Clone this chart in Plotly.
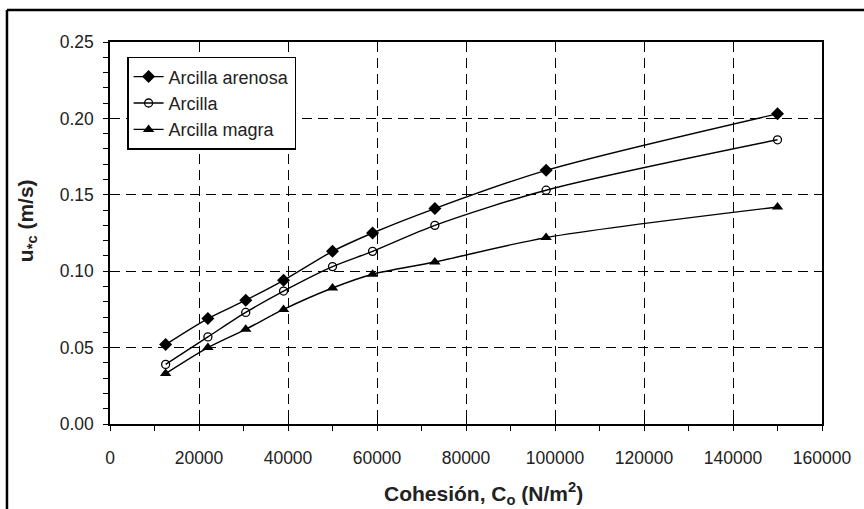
import plotly.graph_objects as go

cohesion = [12500, 22000, 30500, 39000, 50000, 59000, 73000, 98000, 150000]
arcilla_arenosa = [0.052, 0.069, 0.081, 0.094, 0.113, 0.125, 0.141, 0.166, 0.203]
arcilla = [0.039, 0.057, 0.073, 0.087, 0.103, 0.113, 0.130, 0.153, 0.186]
arcilla_magra = [0.033, 0.050, 0.062, 0.075, 0.089, 0.098, 0.106, 0.122, 0.142]

x_ticks = [0, 20000, 40000, 60000, 80000, 100000, 120000, 140000, 160000]
y_ticks = [0.00, 0.05, 0.10, 0.15, 0.20, 0.25]
y_labels = ["0.00", "0.05", "0.10", "0.15", "0.20", "0.25"]

x_title = "<b>Cohesión, C<sub>o</sub> (N/m<sup>2</sup>)</b>"
y_title = "<b>u<sub>*c</sub> (m/s)</b>"

FONT = "Liberation Sans, Arial, sans-serif"
TXT = "#222"

fig = go.Figure()
series = [
    ("Arcilla arenosa", arcilla_arenosa, dict(symbol="diamond", size=10, color="black")),
    ("Arcilla", arcilla, dict(symbol="circle-open", size=8, color="black", line=dict(width=1.3, color="black"))),
    ("Arcilla magra", arcilla_magra, dict(symbol="triangle-up", size=10, color="black")),
]
for name, vals, mk in series:
    fig.add_trace(go.Scatter(
        x=cohesion, y=vals, name=name, mode="lines+markers",
        line=dict(color="black", width=1.4, shape="spline", smoothing=0.8),
        marker=mk,
    ))

# invisible trace on secondary axes for inside major ticks
fig.add_trace(go.Scatter(x=[None], y=[None], xaxis="x2", yaxis="y2", showlegend=False))

fig.update_layout(
    width=864, height=509,
    margin=dict(l=110, r=42, t=42, b=85),
    paper_bgcolor="white", plot_bgcolor="white",
    font=dict(family=FONT, color=TXT, size=17),
    showlegend=True,
    legend=dict(
        x=0.024, y=0.961, xanchor="left", yanchor="top",
        bgcolor="white", bordercolor="black", borderwidth=1.5,
        font=dict(size=18, color=TXT),
        tracegroupgap=0, itemwidth=30,
    ),
    xaxis=dict(
        range=[0, 160000], tickvals=x_ticks, ticktext=[str(v) for v in x_ticks],
        showline=True, linecolor="black", linewidth=1.5, mirror=True,
        showgrid=True, gridcolor="black", gridwidth=1, griddash="10px,6px",
        ticks="outside", ticklen=5, tickwidth=1.3, tickcolor="black",
        minor=dict(dtick=10000, ticks="outside", ticklen=5, tickwidth=1.2, tickcolor="black", showgrid=False),
        zeroline=False, ticklabelstandoff=12,
        tickfont=dict(size=17.5, color=TXT),
    ),
    yaxis=dict(
        range=[0, 0.25], tickvals=y_ticks, ticktext=y_labels,
        showline=True, linecolor="black", linewidth=1.5, mirror=True,
        showgrid=True, gridcolor="black", gridwidth=1, griddash="10px,6px",
        ticks="outside", ticklen=5, tickwidth=1.3, tickcolor="black",
        minor=dict(dtick=0.01, ticks="outside", ticklen=5, tickwidth=1.2, tickcolor="black", showgrid=False),
        zeroline=False, ticklabelstandoff=6,
        tickfont=dict(size=17.5, color=TXT),
    ),
    xaxis2=dict(
        range=[0, 160000], tickvals=x_ticks, overlaying="x", anchor="y2", side="bottom",
        ticks="inside", ticklen=5, tickwidth=1.3, tickcolor="black",
        showticklabels=False, showgrid=False, showline=False, zeroline=False,
    ),
    yaxis2=dict(
        range=[0, 0.25], tickvals=y_ticks, overlaying="y", anchor="x2", side="left",
        ticks="inside", ticklen=5, tickwidth=1.3, tickcolor="black",
        showticklabels=False, showgrid=False, showline=False, zeroline=False,
    ),
    annotations=[
        dict(text=x_title, xref="paper", yref="paper", x=0.525, y=0, xanchor="center", yanchor="middle",
             yshift=-69, showarrow=False, font=dict(size=21, color=TXT)),
        dict(text=y_title, xref="paper", yref="paper", x=0, y=0.531, xanchor="center", yanchor="middle",
             xshift=-83, textangle=-90, showarrow=False, font=dict(size=21, color=TXT)),
    ],
    shapes=[
        dict(type="line", xref="paper", yref="paper", x0=-0.1447, x1=1.06, y0=1.0838, y1=1.0838,
             line=dict(color="black", width=2.5)),
        dict(type="line", xref="paper", yref="paper", x0=-0.1447, x1=-0.1447, y0=1.0838, y1=-0.25,
             line=dict(color="black", width=2.5)),
    ],
)

fig.write_html("out.html")
